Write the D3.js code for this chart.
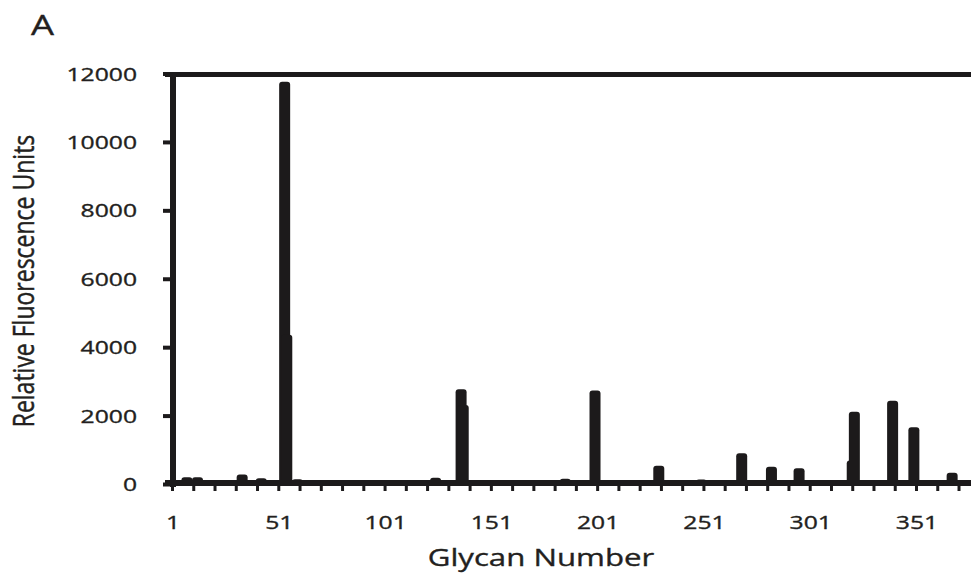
<!DOCTYPE html>
<html>
<head>
<meta charset="utf-8">
<script src="https://cdn.jsdelivr.net/npm/d3@7"></script>
<style>
  body { margin: 0; background: #fff; }
  text { font-family: "Open Sans", "Noto Sans", sans-serif; fill: #231f20; stroke: #231f20; stroke-width: 0.35; }
</style>
</head>
<body>
<div id="chart"></div>
<script>
var width = 971, height = 573;

// glycans with a signal above the baseline, and their RFU
var glycans = [8, 13, 34, 43, 54, 55, 60, 65, 125, 137, 138, 174, 186, 200, 226, 230,
               250, 269, 283, 296, 303, 321, 322, 333, 340, 350, 361, 368, 373];
var rfu = [200, 200, 280, 170, 11760, 4360, 140, 90, 180, 2770, 2310, 80, 150, 2730, 60, 535,
           130, 900, 505, 460, 110, 690, 2115, 90, 2435, 1660, 60, 330, 60];

var yTicks = [0, 2000, 4000, 6000, 8000, 10000, 12000];
var xLabels = [1, 51, 101, 151, 201, 251, 301, 351];

var stretch = 1.3; // text in the figure is stretched horizontally

var svg = d3.select("#chart").append("svg")
    .attr("width", width)
    .attr("height", height);

var x = d3.scaleLinear().domain([1, 351]).range([172, 916]);
var y = d3.scaleLinear().domain([0, 12000]).range([484, 73.5]);

// bars
svg.append("g")
    .selectAll("rect")
    .data(glycans.map(function(g, i) { return {g: g, v: rfu[i]}; }))
    .enter().append("rect")
    .attr("x", function(d) { return x(d.g) - 5.5; })
    .attr("width", 11)
    .attr("y", function(d) { return y(d.v); })
    .attr("height", function(d) { return y(0) - y(d.v) + 2; })
    .attr("rx", 3)
    .attr("fill", "#1c1a1b");

// x axis: baseline + small ticks every 10 glycans
var xAxis = d3.axisBottom(x)
    .tickValues(d3.range(1, 380, 10))
    .tickSize(7)
    .tickSizeOuter(0)
    .tickFormat("");

var gx = svg.append("g")
    .attr("transform", "translate(0," + y(0) + ")")
    .call(xAxis);
gx.select(".domain").remove();
gx.selectAll(".tick line").attr("stroke", "#1c1a1b").attr("stroke-width", 3);
svg.append("line")
    .attr("x1", 165).attr("x2", width)
    .attr("y1", y(0) - 1).attr("y2", y(0) - 1)
    .attr("stroke", "#1c1a1b").attr("stroke-width", 6);

// y axis
var yAxis = d3.axisLeft(y)
    .tickValues(yTicks)
    .tickSize(8)
    .tickSizeOuter(0)
    .tickFormat("");

var gy = svg.append("g")
    .attr("transform", "translate(171,0)")
    .call(yAxis);
gy.select(".domain").remove();
gy.selectAll(".tick line").attr("stroke", "#1c1a1b").attr("stroke-width", 4);

svg.append("line")
    .attr("x1", 173).attr("x2", 173)
    .attr("y1", 72).attr("y2", 487)
    .attr("stroke", "#1c1a1b").attr("stroke-width", 6);

// top border
svg.append("line")
    .attr("x1", 165).attr("x2", width)
    .attr("y1", 74.5).attr("y2", 74.5)
    .attr("stroke", "#1c1a1b").attr("stroke-width", 5);

// tick labels
svg.append("g")
    .selectAll("text")
    .data(yTicks)
    .enter().append("text")
    .attr("transform", function(d) { return "translate(137," + (y(d) + 7) + ") scale(" + stretch + ",1)"; })
    .attr("text-anchor", "end")
    .attr("font-size", 19)
    .text(function(d) { return d; });

svg.append("g")
    .selectAll("text")
    .data(xLabels)
    .enter().append("text")
    .attr("transform", function(d) { return "translate(" + (x(d) + 1) + ",529) scale(" + stretch + ",1)"; })
    .attr("text-anchor", "middle")
    .attr("font-size", 19)
    .text(function(d) { return d; });

// axis titles
svg.append("text")
    .attr("transform", "translate(541,566) scale(" + stretch + ",1)")
    .attr("text-anchor", "middle")
    .attr("font-size", 24)
    .text("Glycan Number");

svg.append("text")
    .attr("transform", "translate(34,281) scale(" + stretch + ",1) rotate(-90)")
    .attr("text-anchor", "middle")
    .attr("font-size", 23)
    .text("Relative Fluorescence Units");

// panel letter
svg.append("text")
    .attr("transform", "translate(31,35) scale(" + stretch + ",1)")
    .attr("font-size", 28)
    .text("A");
</script>
</body>
</html>
